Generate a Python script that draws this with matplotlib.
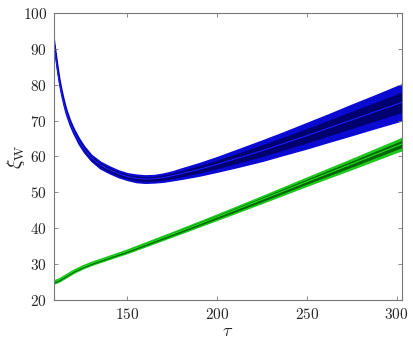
import numpy as np
import matplotlib
matplotlib.use("Agg")
import matplotlib.pyplot as plt

# ---- data ----
tau_blue = [109, 110, 111, 112, 113, 114, 115, 116, 118, 120, 123, 126, 130, 135, 140,
            145, 150, 155, 160, 165, 170, 175, 180, 190, 200, 212, 225, 237, 250, 262,
            275, 287, 300, 303]
xi_blue = [92.0, 88.2, 84.6, 81.3, 78.6, 76.3, 74.2, 72.4, 69.5, 67.2, 64.3, 62.0, 59.6,
           57.6, 56.3, 55.2, 54.4, 53.9, 53.7, 53.8, 54.1, 54.6, 55.2, 56.4, 57.8, 59.6,
           61.6, 63.6, 65.8, 67.9, 70.2, 72.3, 74.6, 75.1]
spread_blue = [0.7, 0.7, 0.7, 0.7, 0.7, 0.7, 0.7, 0.7, 0.7, 0.7, 0.8, 0.8, 0.8, 0.9, 0.9,
               0.9, 0.9, 1.0, 1.0, 1.0, 1.1, 1.2, 1.4, 1.7, 2.0, 2.4, 2.8, 3.1, 3.5, 3.8,
               4.2, 4.5, 4.9, 5.0]

tau_green = [109, 112, 116, 120, 125, 130, 140, 150, 175, 200, 225, 250, 275, 300, 303]
xi_green = [25.0, 25.6, 26.8, 28.0, 29.2, 30.2, 31.9, 33.6, 38.3, 43.1, 48.0, 53.0,
            57.9, 62.9, 63.5]
spread_green = [0.4, 0.4, 0.4, 0.4, 0.4, 0.4, 0.4, 0.45, 0.55, 0.7, 0.9, 1.1, 1.35, 1.6, 1.7]

xticks = [150, 200, 250, 300]
yticks = [20, 30, 40, 50, 60, 70, 80, 90, 100]

plt.rcParams['font.family'] = ['cmr10', 'DejaVu Serif']
plt.rcParams['mathtext.fontset'] = 'cm'
plt.rcParams['axes.formatter.use_mathtext'] = True

fig = plt.figure(figsize=(4.13, 3.49), dpi=100)
ax = fig.add_axes([0.1308, 0.1404, 0.8426, 0.8224])

def band(ax, t, m, s, outer, inner, line):
    t = np.asarray(t, float); m = np.asarray(m, float); s = np.asarray(s, float)
    tf = np.linspace(t[0], t[-1], 400)
    mf = np.interp(tf, t, m)
    sf = np.interp(tf, t, s)
    ax.fill_between(tf, mf - sf, mf + sf, color=outer, lw=1.2, edgecolor=outer)
    ax.fill_between(tf, mf - 0.55 * sf, mf + 0.55 * sf, color=inner, lw=0.4, edgecolor=inner)
    ax.plot(tf, mf, color=line, lw=0.8)

band(ax, tau_blue, xi_blue, spread_blue, '#0a0ad2', '#00006e', '#1e1eff')
band(ax, tau_green, xi_green, spread_green, '#1ec81e', '#006400', '#22dd22')

ax.set_xlim(109.2, 303)
ax.set_ylim(20, 100)
ax.set_xticks(xticks)
ax.set_yticks(yticks)
ax.tick_params(direction='in', top=True, right=True, length=3, width=0.6,
               color='#777777', labelsize=11, labelcolor='#262626', pad=5)
for sp in ax.spines.values():
    sp.set_color('#777777')
    sp.set_linewidth(0.8)

ax.set_xlabel(r'$\tau$', fontsize=13, color='#262626', labelpad=1)
ax.set_ylabel(r'$\xi_{\mathrm{W}}$', fontsize=14, color='#262626')
ax.yaxis.set_label_coords(-0.078, 0.5)

fig.savefig('out.png', dpi=100)
